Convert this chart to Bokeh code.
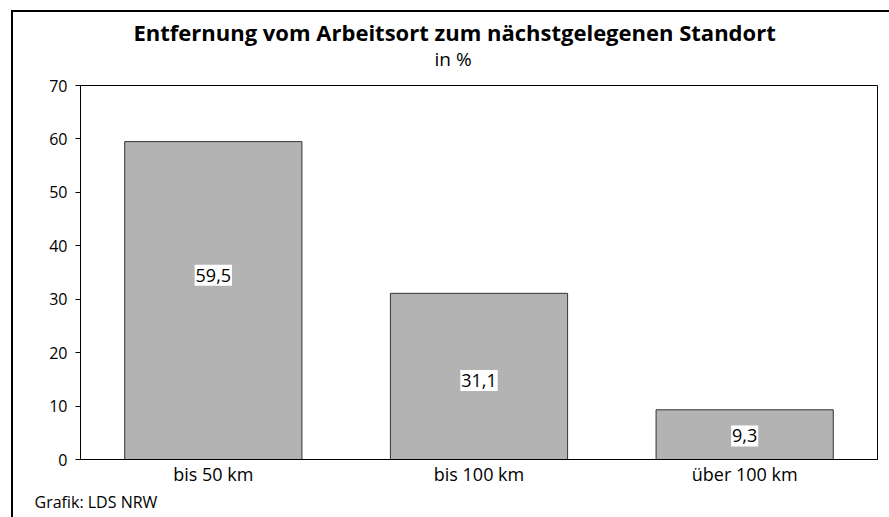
from bokeh.plotting import figure
from bokeh.models import ColumnDataSource, FactorRange, Range1d, Title, FixedTicker
from bokeh.embed import file_html
from bokeh.resources import INLINE
from bokeh.core.properties import value

# Data
categories = ["bis 50 km", "bis 100 km", "über 100 km"]
shares = [59.5, 31.1, 9.3]
share_labels = ["59,5", "31,1", "9,3"]
label_anchor = [34.5, 14.8, 4.4]
y_ticks = [0, 10, 20, 30, 40, 50, 60, 70]
title_text = "Entfernung vom Arbeitsort zum nächstgelegenen Standort"
subtitle_text = "in %"
source_text = "Grafik: LDS NRW"

FONT = "Open Sans"

# white label boxes sized from the label text
box_w = [sum(4.5 if ch == "," else 10.3 for ch in s) + 2 for s in share_labels]

src = ColumnDataSource(dict(cat=categories, val=shares, lab=share_labels,
                            ly=label_anchor, bw=box_w))

p = figure(
    x_range=FactorRange(*categories, range_padding=0),
    y_range=Range1d(0, 70),
    frame_width=797, frame_height=374,
    min_border_left=67, min_border_top=73, min_border_right=12, min_border_bottom=58,
    output_backend="svg", toolbar_location=None,
)
p.styles = {"border-left": "2px solid black", "border-top": "2px solid black",
            "border-right": "none", "border-bottom": "none",
            "margin-left": "11px", "margin-top": "10px"}

p.vbar(x="cat", top="val", width=0.667, source=src,
       fill_color="#b3b3b3", line_color="#333333", line_width=1)

p.rect(x="cat", y="ly", width="bw", height=21, width_units="screen", height_units="screen",
       source=src, fill_color="white", line_color=None)
p.text(x="cat", y="ly", text="lab", source=src,
       text_align="center", text_baseline="middle",
       text_font=value(FONT), text_font_size="18px", text_color="black")

p.xgrid.grid_line_color = None
p.ygrid.grid_line_color = None
p.outline_line_color = "black"
p.outline_line_alpha = 1
p.outline_line_width = 1

p.yaxis.ticker = FixedTicker(ticks=y_ticks)
p.yaxis.major_tick_out = 5
p.yaxis.major_tick_in = 0
p.yaxis.minor_tick_line_color = None
p.yaxis.major_label_standoff = 8
p.yaxis.axis_line_color = "black"
p.yaxis.major_tick_line_color = "black"
p.yaxis.major_label_text_font = FONT
p.yaxis.major_label_text_font_size = "16px"
p.yaxis.major_label_text_color = "black"

p.xaxis.major_tick_line_color = None
p.xaxis.minor_tick_line_color = None
p.xaxis.major_tick_out = 0
p.xaxis.major_tick_in = 0
p.xaxis.axis_line_color = "black"
p.xaxis.major_label_standoff = 2
p.xaxis.major_label_text_font = FONT
p.xaxis.major_label_text_font_size = "18px"
p.xaxis.major_label_text_color = "black"

# titles stacked above the frame (first added sits closest to the frame)
p.add_layout(Title(text=" ", text_font_size="1px", standoff=11), "above")
p.add_layout(Title(text=subtitle_text, align="left", offset=354, standoff=0,
                   text_font=FONT, text_font_style="normal", text_font_size="19px",
                   text_color="black"), "above")
p.add_layout(Title(text=title_text, align="left", offset=53, standoff=-6,
                   text_font=FONT, text_font_style="bold", text_font_size="22px",
                   text_color="black"), "above")
p.add_layout(Title(text=source_text, align="left", offset=-46, standoff=5,
                   vertical_align="top",
                   text_font=FONT, text_font_style="normal", text_font_size="16px",
                   text_color="black"), "below")

open("out.html", "w").write(file_html(p, INLINE))
